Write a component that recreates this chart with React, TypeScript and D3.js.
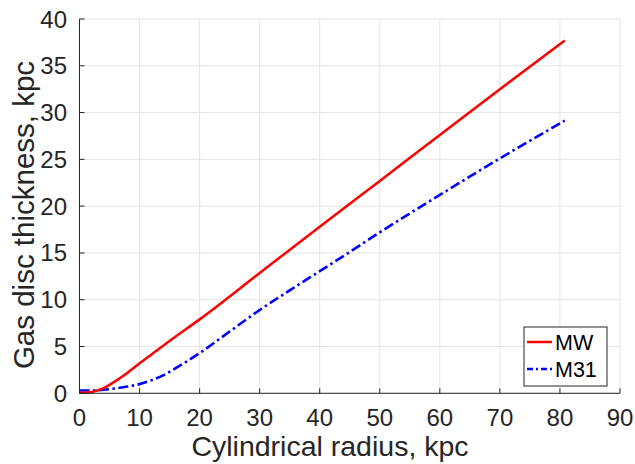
import React from "react";
import * as d3 from "d3";

const mwR = [0, 2, 3, 4, 5, 6, 8, 10, 12, 15, 20, 30, 40, 50, 60, 70, 80.8];
const mwH = [0.05, 0.15, 0.3, 0.55, 0.9, 1.3, 2.2, 3.2, 4.15, 5.6, 7.9, 12.85, 17.8, 22.7, 27.6, 32.5, 37.7];
const m31R = [0, 2, 4, 6, 8, 10, 12, 14, 16.7, 20, 25, 30, 35, 40, 45, 50, 60, 70, 80.8];
const m31H = [0.3, 0.3, 0.38, 0.52, 0.72, 0.98, 1.4, 1.95, 2.95, 4.3, 6.6, 8.9, 11.0, 13.05, 15.1, 17.2, 21.2, 25.1, 29.15];
const xTicks = [0, 10, 20, 30, 40, 50, 60, 70, 80, 90];
const yTicks = [0, 5, 10, 15, 20, 25, 30, 35, 40];
const seriesNames = ["MW", "M31"];

const W = 635, H = 464;
const L = 79.5, R = 620, T = 19, B = 393.3;
const FONT = "'Liberation Sans', Arial, Helvetica, sans-serif";
const TXT = "#262626";

export default function App() {
  const x = d3.scaleLinear().domain([0, 90]).range([L, R]);
  const y = d3.scaleLinear().domain([0, 40]).range([B, T]);
  const line = d3.line<[number, number]>().x(d => x(d[0])).y(d => y(d[1])).curve(d3.curveMonotoneX);
  const mw = line(mwR.map((r, i) => [r, mwH[i]] as [number, number]))!;
  const m31 = line(m31R.map((r, i) => [r, m31H[i]] as [number, number]))!;
  return (
    <svg width={W} height={H} style={{ position: "absolute", left: 0, top: 0, background: "#fff" }}>
      <rect x={0} y={0} width={W} height={H} fill="#fff" />
      {xTicks.map(t => (
        <line key={"gx" + t} x1={x(t)} x2={x(t)} y1={T} y2={B} stroke="#e5e5e5" strokeWidth={1} />
      ))}
      {yTicks.map(t => (
        <line key={"gy" + t} x1={L} x2={R} y1={y(t)} y2={y(t)} stroke="#e5e5e5" strokeWidth={1} />
      ))}
      <path d={m31} fill="none" stroke="#0000ff" strokeWidth={2.6} strokeDasharray="10,3.5,2.5,3.5" />
      <path d={mw} fill="none" stroke="#ff0000" strokeWidth={2.5} />
      <line x1={L} x2={L} y1={T} y2={B} stroke={TXT} strokeWidth={1} />
      <line x1={L} x2={R} y1={B} y2={B} stroke={TXT} strokeWidth={1} />
      {xTicks.map(t => (
        <g key={"tx" + t}>
          <line x1={x(t)} x2={x(t)} y1={B} y2={B - 5} stroke={TXT} strokeWidth={1} />
          <text x={x(t)} y={426} textAnchor="middle" fontFamily={FONT} fontSize={24} fill={TXT}>{t}</text>
        </g>
      ))}
      {yTicks.map(t => (
        <g key={"ty" + t}>
          <line x1={L} x2={L + 5} y1={y(t)} y2={y(t)} stroke={TXT} strokeWidth={1} />
          <text x={67} y={y(t) + 8.5} textAnchor="end" fontFamily={FONT} fontSize={24} fill={TXT}>{t}</text>
        </g>
      ))}
      <text x={330} y={456} textAnchor="middle" fontFamily={FONT} fontSize={28.5} fill={TXT}>Cylindrical radius, kpc</text>
      <text transform={`translate(34,215) rotate(-90)`} textAnchor="middle" fontFamily={FONT} fontSize={29.5} fill={TXT}>Gas disc thickness, kpc</text>
      <rect x={524} y={327} width={83} height={59} fill="#fff" stroke={TXT} strokeWidth={1} />
      <line x1={527} x2={552} y1={342} y2={342} stroke="#ff0000" strokeWidth={2.5} />
      <line x1={527} x2={552} y1={369} y2={369} stroke="#0000ff" strokeWidth={2.5} strokeDasharray="6,3,2,3" />
      <text x={555} y={350} fontFamily={FONT} fontSize={21.5} fill="#000">{seriesNames[0]}</text>
      <text x={555} y={377} fontFamily={FONT} fontSize={21.5} fill="#000">{seriesNames[1]}</text>
    </svg>
  );
}
